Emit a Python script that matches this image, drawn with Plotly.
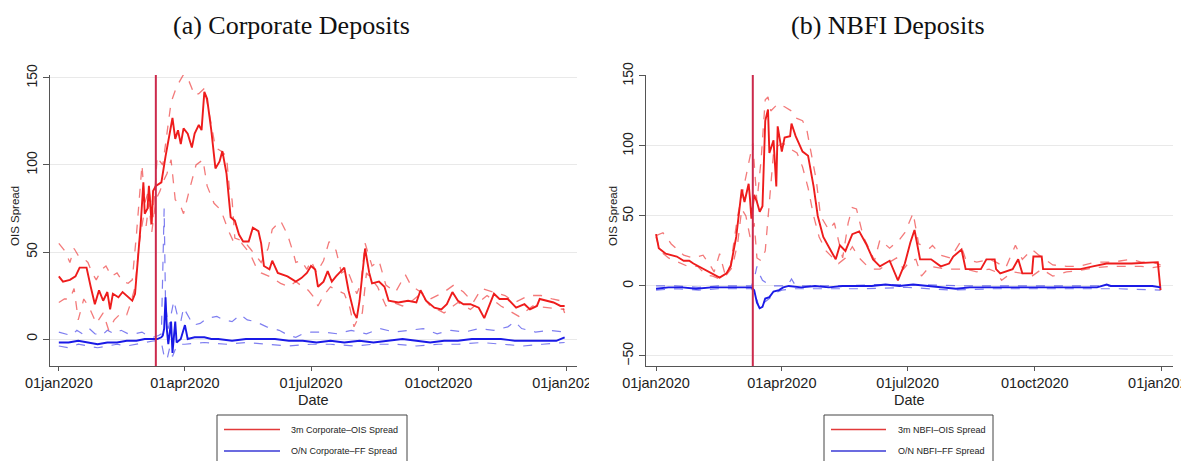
import plotly.graph_objects as go

# ---------------- data ----------------
YEAR = "2020"
event_date = "2020-03-11"
tick_dates = ["2020-01-01", "2020-04-01", "2020-07-01", "2020-10-01", "2021-01-01"]
tick_labels = ["01jan2020", "01apr2020", "01jul2020", "01oct2020", "01jan2021"]

# Panel (a) Corporate deposits -------------------------------------
corp_ois_d = ["01-01","01-04","01-09","01-13","01-16","01-21","01-24","01-27","01-30","02-02",
              "02-05","02-07","02-09","02-13","02-16","02-20","02-23","02-25","02-27","02-29",
              "03-02","03-03","03-05","03-06","03-08","03-09","03-11","03-15","03-18","03-21",
              "03-23","03-25","03-27","03-29","03-31","04-03","04-06","04-08","04-11","04-13",
              "04-15","04-17","04-20","04-23","04-26","04-28","05-01","05-04","05-07","05-10",
              "05-13","05-17","05-20","05-24","05-26","05-28","06-01","06-03","06-07","06-14",
              "06-20","06-24","06-28","07-01","07-04","07-06","07-10","07-13","07-16","07-19",
              "07-25","07-28","08-01","08-03","08-05","08-09","08-12","08-14","08-19","08-23",
              "08-26","09-02","09-09","09-15","09-18","09-22","09-28","10-03","10-07","10-11",
              "10-15","10-19","10-24","10-30","11-03","11-07","11-10","11-14","11-20","11-26",
              "12-02","12-06","12-11","12-13","12-18","12-23","12-28","12-31"]
corp_ois = [36,33,34,36,41,41,30,20,28,22,
            27,17,26,24,27,24,22,26,45,65,
            90,72,75,88,66,85,88,90,105,118,
            127,115,120,112,121,118,110,118,123,120,
            142,138,120,98,102,108,95,70,68,60,
            56,56,64,62,55,42,40,45,38,36,
            33,35,38,42,40,30,33,39,33,36,
            41,28,15,12,22,52,38,32,33,30,
            22,21,22,21,28,22,18,17,20,27,
            22,20,20,18,12,20,26,23,23,18,
            20,17,19,23,22,21,19,19]

corp_ois_hi_d = ["01-01","01-05","01-09","01-12","01-15","01-18","01-22","01-25","01-28","02-01",
                 "02-04","02-08","02-12","02-16","02-20","02-23","02-26","03-01","03-03","03-06",
                 "03-09","03-12","03-14","03-16","03-19","03-22","03-26","03-31","04-04","04-08",
                 "04-11","04-15","04-18","04-21","04-23","04-27","05-01","05-03","05-05","05-07",
                 "05-11","05-14","05-18","05-22","05-26","05-31","06-03","06-09","06-14","06-18",
                 "06-20","06-24","06-28","07-01","07-05","07-10","07-14","07-19","07-23","07-27",
                 "08-03","08-06","08-09","08-14","08-19","08-24","08-31","09-07","09-11","09-18",
                 "09-25","10-05","10-12","10-19","10-26","11-01","11-09","11-18","11-25","12-05",
                 "12-14","12-22","12-28","12-31"]
corp_ois_hi = [55,51,44,52,48,47,44,38,34,40,
               42,36,38,33,32,34,60,100,78,86,
               70,105,102,100,118,136,145,152,148,140,
               141,144,132,118,110,108,105,87,80,58,
               57,56,52,48,44,52,63,68,60,50,
               44,45,40,45,38,45,56,51,38,40,
               26,32,55,42,45,31,27,37,31,27,
               23,27,31,27,21,29,27,25,21,25,
               25,23,22,15]

corp_ois_lo_d = ["01-01","01-05","01-09","01-12","01-15","01-19","01-23","01-28","02-02","02-06",
                 "02-10","02-15","02-19","02-22","02-25","02-28","03-02","03-04","03-06","03-08",
                 "03-11","03-14","03-16","03-19","03-22","03-25","03-28","03-31","04-04","04-09",
                 "04-14","04-17","04-22","04-27","05-02","05-06","05-12","05-18","05-22","05-26",
                 "06-01","06-09","06-15","06-20","06-25","06-29","07-03","07-06","07-10","07-15",
                 "07-20","07-25","07-29","08-01","08-04","08-07","08-10","08-14","08-18","08-24",
                 "08-29","09-05","09-12","09-18","09-25","10-05","10-15","10-24","11-05","11-15",
                 "11-28","12-08","12-18","12-31"]
corp_ois_lo = [21,23,23,29,11,23,18,9,15,5,
               11,15,14,21,30,55,70,65,78,61,
               80,85,90,95,103,80,78,72,85,100,
               103,88,78,74,63,56,55,49,42,38,
               36,32,30,33,30,28,24,19,25,30,
               28,26,18,7,12,15,38,34,30,19,
               21,19,22,26,19,15,21,17,25,19,
               13,19,18,17]

corp_ff_d = ["01-01","01-08","01-15","01-22","01-29","02-05","02-12","02-19","02-26","03-03",
             "03-08","03-12","03-15","03-16","03-17","03-18","03-19","03-20","03-22","03-23",
             "03-25","03-26","03-29","04-01","04-03","04-08","04-15","04-20","04-25","05-05",
             "05-15","05-25","06-05","06-15","06-25","07-05","07-15","07-25","08-05","08-15",
             "08-25","09-05","09-15","09-25","10-05","10-15","10-25","11-05","11-15","11-25",
             "12-05","12-15","12-25","12-31"]
corp_ff = [-2,-2,-1,-2,-3,-2,-2,-1,-1,0,
           0,0,1,2,6,24,5,-3,10,-8,
           10,-2,0,8,0,1,1,0,0,-1,
           0,0,0,-1,-1,-2,-1,-2,-1,-2,
           -1,0,-1,-2,-1,-1,0,0,0,-1,
           -1,-1,-1,1]

corp_ff_hi_d = ["01-01","01-05","01-10","01-14","01-18","01-23","01-27","02-01","02-05","02-10",
                "02-15","02-20","02-25","03-01","03-05","03-09","03-13","03-15","03-17","03-18",
                "03-20","03-24","03-27","03-29","03-31","04-07","04-12","04-17","04-24","04-29",
                "05-05","05-11","05-16","05-22","05-30","06-08","06-15","06-20","06-25","07-01",
                "07-10","07-20","07-30","08-10","08-20","08-30","09-10","09-20","09-30","10-10",
                "10-20","10-30","11-10","11-20","11-25","11-30","12-10","12-20","12-31"]
corp_ff_hi = [4,3,2,5,3,6,3,2,5,3,
              5,3,3,4,2,1,2,3,75,20,
              6,22,12,10,18,8,9,12,13,11,
              10,14,11,10,7,5,2,1,3,4,
              4,3,5,3,6,4,5,6,3,5,
              4,6,5,7,10,6,4,5,4]

corp_ff_lo_d = ["01-01","01-08","01-15","01-22","01-29","02-05","02-12","02-19","02-26","03-04",
                "03-10","03-15","03-17","03-19","03-21","03-23","03-25","03-28","04-01","04-15",
                "05-01","05-15","06-01","06-15","07-01","07-15","08-01","08-15","09-01","09-15",
                "10-01","10-15","11-01","11-15","12-01","12-15","12-31"]
corp_ff_lo = [-4,-5,-3,-4,-5,-4,-3,-4,-3,-2,
              -1,-2,-10,-12,-5,-10,-6,-3,-3,-2,
              -3,-2,-3,-4,-3,-3,-4,-3,-3,-4,
              -3,-3,-2,-3,-4,-3,-2]

# Panel (b) NBFI deposits ------------------------------------------
nbfi_ois_d = ["01-01","01-03","01-08","01-16","01-21","01-25","01-28","02-01","02-06","02-11",
              "02-16","02-21","02-24","02-28","03-03","03-05","03-08","03-09","03-10","03-12",
              "03-14","03-16","03-18","03-20","03-22","03-23","03-26","03-28","03-29","04-01",
              "04-03","04-07","04-08","04-11","04-16","04-20","04-24","04-27","05-01","05-06",
              "05-10","05-13","05-17","05-22","05-27","06-01","06-06","06-11","06-18","06-24",
              "06-29","07-03","07-06","07-10","07-18","07-25","07-31","08-03","08-09","08-12",
              "08-23","08-27","09-02","09-03","09-06","09-15","09-19","09-22","09-29","09-30",
              "10-06","10-07","10-17","11-03","11-12","11-22","12-10","12-29","12-31"]
nbfi_ois = [37,27,23,21,18,18,16,14,11,9,
            6,9,14,35,69,60,73,62,48,65,
            60,53,57,118,126,95,104,71,114,96,
            106,107,116,107,96,93,71,50,35,26,
            19,29,25,37,39,30,19,14,18,4,
            16,31,40,19,19,14,16,21,26,12,
            12,19,19,12,9,12,19,9,9,21,
            21,12,12,12,14,16,16,17,-3]

nbfi_ois_hi_d = ["01-01","01-06","01-12","01-21","01-28","02-04","02-09","02-12","02-16","02-20",
                 "02-24","02-29","03-06","03-11","03-14","03-17","03-20","03-22","03-24","03-29",
                 "04-03","04-08","04-11","04-16","04-19","04-22","04-26","04-29","05-05","05-09",
                 "05-15","05-19","05-22","05-25","05-30","06-04","06-07","06-11","06-18","06-25",
                 "06-29","07-05","07-09","07-17","07-19","07-25","08-01","08-08","08-12","08-20",
                 "08-29","09-03","09-10","09-17","09-22","09-29","10-04","10-14","10-24","11-02",
                 "11-14","11-26","12-10","12-17","12-25","12-31"]
nbfi_ois_hi = [36,38,30,22,20,22,15,10,23,8,
               15,50,78,102,60,90,133,135,125,130,
               128,125,120,118,112,95,75,50,40,45,
               20,45,56,55,35,25,18,33,27,33,
               38,52,30,27,29,22,20,31,19,17,
               19,17,13,29,19,26,22,15,14,14,
               17,17,19,17,17,15]

nbfi_ois_lo_d = ["01-01","01-04","01-10","01-17","01-24","01-31","02-06","02-11","02-16","02-21",
                 "02-25","02-29","03-03","03-06","03-09","03-12","03-14","03-17","03-20","03-23",
                 "03-26","03-29","04-02","04-07","04-12","04-16","04-20","04-24","04-28","05-03",
                 "05-08","05-12","05-17","05-22","05-27","06-01","06-06","06-11","06-18","06-23",
                 "06-28","07-03","07-07","07-11","07-17","07-29","08-05","08-12","08-20","08-29",
                 "09-03","09-07","09-15","09-22","09-29","10-06","10-14","10-24","11-02","11-14",
                 "11-26","12-10","12-17","12-25","12-31"]
nbfi_ois_lo = [35,25,20,17,14,14,8,7,5,8,
               13,30,55,50,35,45,20,18,25,60,
               95,100,102,98,95,85,70,50,35,25,
               20,16,20,28,20,15,12,12,17,20,
               12,18,19,7,14,12,12,12,10,12,
               10,4,10,9,7,12,7,10,11,13,
               14,14,14,13,14]

nbfi_ff_d = ["01-01","01-10","01-20","01-30","02-10","02-20","03-01","03-10","03-12","03-14",
             "03-16","03-18","03-20","03-23","03-26","03-30","04-02","04-06","04-15","04-25",
             "05-05","05-15","05-25","06-05","06-15","06-25","07-05","07-15","07-25","08-05",
             "08-15","08-25","09-05","09-15","09-25","10-05","10-15","10-25","11-05","11-15",
             "11-22","11-25","12-05","12-15","12-25","12-31"]
nbfi_ff = [-2,-1,-1,-2,-1,-1,-1,-1,-3,-12,
           -16,-15,-9,-8,-4,-3,-1,0,-1,0,
           -1,0,0,0,1,0,1,0,-1,-2,
           -1,-1,-1,-1,-1,-1,-1,-1,-1,-1,
           1,0,0,0,0,-1]

nbfi_ff_hi_d = ["01-01","01-15","02-01","02-15","03-01","03-10","03-12","03-14","03-16","03-18",
                "03-21","03-25","03-30","04-05","04-08","04-11","04-20","05-10","06-10","07-10",
                "08-10","09-10","10-10","11-10","12-10","12-31"]
nbfi_ff_hi = [0,0,-1,0,0,0,5,14,8,4,
              2,0,0,0,5,0,0,0,1,1,
              0,0,0,0,0,0]

nbfi_ff_lo_d = ["01-01","01-15","02-01","02-15","03-01","03-10","03-13","03-16","03-19","03-23",
                "03-27","04-01","04-10","05-01","06-01","07-01","08-01","09-01","10-01","11-01",
                "12-01","12-31"]
nbfi_ff_lo = [-3,-2,-3,-2,-2,-2,-6,-17,-12,-9,
              -5,-3,-2,-2,-2,-1,-3,-2,-2,-2,
              -2,-3]

titles = ["(a) Corporate Deposits", "(b) NBFI Deposits"]
legend_a = ["3m Corporate\u2013OIS Spread", "O/N Corporate\u2013FF Spread"]
legend_b = ["3m NBFI\u2013OIS Spread", "O/N NBFI\u2013FF Spread"]

# ---------------- figure ----------------
W, H = 1189, 461
OFF = 8  # the page places the figure 8 px from the window's top-left corner
RED, RED_D = "#ee1c1c", "rgba(236,40,40,0.62)"
BLUE, BLUE_D = "#1a1ae6", "rgba(40,40,230,0.60)"

def full(ds):
    return [f"{YEAR}-{d}" for d in ds]

def px(x):
    return (x - OFF) / W

def py(y):
    return 1 - (y - OFF) / H

fig = go.Figure()

def add(ds, vals, color, width, dash, ax):
    assert len(ds) == len(vals)
    fig.add_trace(go.Scatter(x=full(ds), y=vals, mode="lines",
                             line=dict(color=color, width=width, dash=dash),
                             xaxis="x" + ax, yaxis="y" + ax,
                             showlegend=False, hoverinfo="skip"))

for ax, series in [("", (corp_ois_d, corp_ois, corp_ois_hi_d, corp_ois_hi, corp_ois_lo_d, corp_ois_lo,
                         corp_ff_d, corp_ff, corp_ff_hi_d, corp_ff_hi, corp_ff_lo_d, corp_ff_lo)),
                   ("2", (nbfi_ois_d, nbfi_ois, nbfi_ois_hi_d, nbfi_ois_hi, nbfi_ois_lo_d, nbfi_ois_lo,
                          nbfi_ff_d, nbfi_ff, nbfi_ff_hi_d, nbfi_ff_hi, nbfi_ff_lo_d, nbfi_ff_lo))]:
    od, ov, ohd, ohv, old, olv, fd, fv, fhd, fhv, fld, flv = series
    add(fhd, fhv, BLUE_D, 1.2, "dash", ax)
    add(fld, flv, BLUE_D, 1.2, "dash", ax)
    add(ohd, ohv, RED_D, 1.3, "dash", ax)
    add(old, olv, RED_D, 1.3, "dash", ax)
    add(od, ov, RED, 1.9, "solid", ax)
    add(fd, fv, BLUE, 1.9, "solid", ax)

AX = "#555555"
TF = "Liberation Sans, Arial, sans-serif"
ydom = [py(366), py(75)]

def xax(dom, rng, anchor):
    return dict(domain=dom, type="date", range=rng, tickvals=tick_dates, ticktext=tick_labels,
                ticks="outside", ticklen=4, tickcolor=AX, tickwidth=1, showline=True,
                linecolor=AX, linewidth=1, showgrid=False, zeroline=False, automargin=False,
                ticklabeloverflow="allow", anchor=anchor,
                tickfont=dict(family=TF, size=14.5, color="#222"), fixedrange=True)

def yax(rng, tv, anchor):
    return dict(domain=ydom, range=rng, tickvals=tv, tickangle=-90, ticks="outside", ticklen=6,
                tickcolor=AX, showline=True, linecolor=AX, linewidth=1, showgrid=True,
                gridcolor="#e9e9e9", gridwidth=1, zeroline=False, anchor=anchor, automargin=False,
                tickfont=dict(family=TF, size=14, color="#222"), fixedrange=True)

fig.update_layout(
    width=W, height=H, margin=dict(l=0, r=0, t=0, b=0, pad=0, autoexpand=False),
    paper_bgcolor="white", plot_bgcolor="white", showlegend=False,
    xaxis=xax([px(50), px(577)], ["2019-12-25 15:00", "2021-01-08 22:00"], "y"),
    yaxis=yax([-15.5, 151.7], [0, 50, 100, 150], "x"),
    xaxis2=xax([px(645.5), px(1173)], ["2019-12-24 09:00", "2021-01-09 00:00"], "y2"),
    yaxis2=yax([-57.2, 150.7], [-50, 0, 50, 100, 150], "x2"),
)

shapes = []
for ax in ["", "2"]:
    shapes.append(dict(type="line", xref="x" + ax, yref=("y" + ax) + " domain",
                       x0=event_date, x1=event_date, y0=0, y1=1,
                       line=dict(color="#cc2a4c", width=2)))

annotations = []
# titles
for t, cx in zip(titles, [291, 888]):
    annotations.append(dict(text=t, x=px(cx), y=py(26), xref="paper", yref="paper",
                            showarrow=False, xanchor="center", yanchor="middle",
                            font=dict(family="Liberation Serif, Times New Roman, serif",
                                      size=26, color="#111")))
# axis titles
for cx in [313.5, 909]:
    annotations.append(dict(text="Date", x=px(cx), y=py(400), xref="paper", yref="paper",
                            showarrow=False, xanchor="center", yanchor="middle",
                            font=dict(family=TF, size=14.5, color="#222")))
for cx in [15, 613]:
    annotations.append(dict(text="OIS Spread", x=px(cx), y=py(216), xref="paper", yref="paper",
                            showarrow=False, xanchor="center", yanchor="middle", textangle=-90,
                            font=dict(family=TF, size=11.5, color="#222")))

# legends (boxed, below each panel)
for (bx0, bx1, lx0, lx1, tx), labels in [((217, 407, 224, 280, 289), legend_a),
                                        ((824, 993, 831, 886, 896), legend_b)]:
    shapes.append(dict(type="rect", xref="paper", yref="paper", x0=px(bx0), x1=px(bx1),
                       y0=py(480), y1=py(415), line=dict(color="#444", width=1),
                       fillcolor="white", layer="above"))
    for yy, col, lab in [(429.5, "#e23a3a", labels[0]), (451, "#3a3ad6", labels[1])]:
        shapes.append(dict(type="line", xref="paper", yref="paper", x0=px(lx0), x1=px(lx1),
                           y0=py(yy), y1=py(yy), line=dict(color=col, width=1.6), layer="above"))
        annotations.append(dict(text=lab, x=px(tx), y=py(yy), xref="paper", yref="paper",
                                showarrow=False, xanchor="left", yanchor="middle",
                                font=dict(family=TF, size=9, color="#222")))

# the left panel's last tick label is cut at the panel edge in the reference
shapes.append(dict(type="rect", xref="paper", yref="paper", x0=px(589), x1=px(604),
                   y0=py(392), y1=py(370), line=dict(width=0), fillcolor="white", layer="above"))

fig.update_layout(shapes=shapes, annotations=annotations)
fig.write_html("out.html")
